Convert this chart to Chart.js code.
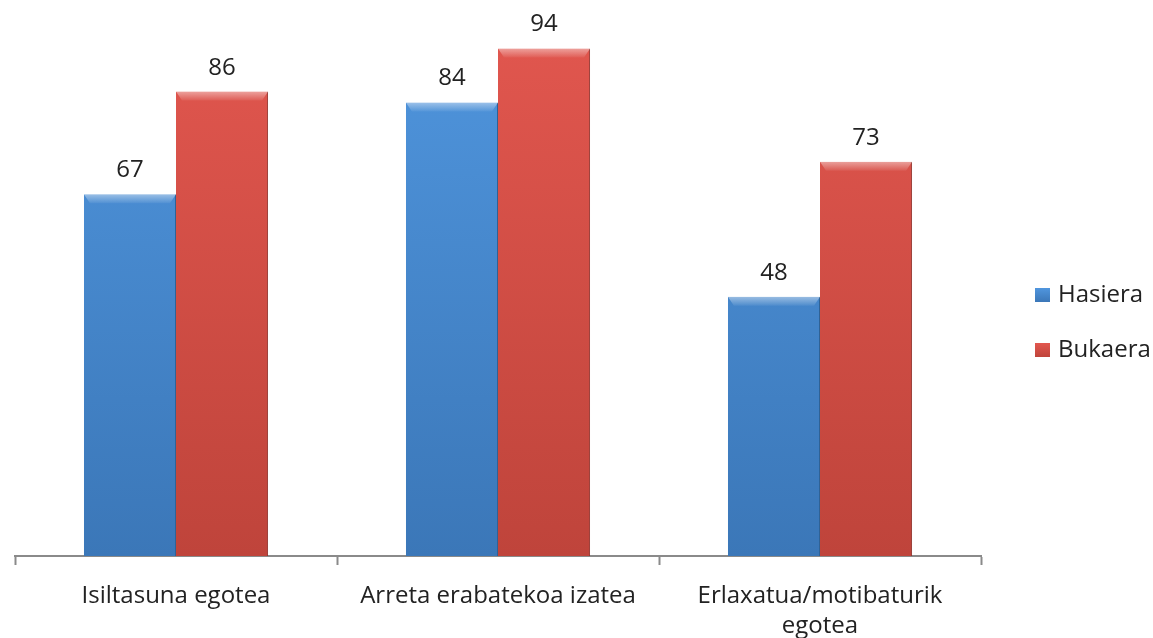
<!DOCTYPE html>
<html>
<head>
<meta charset="utf-8">
<script src="https://cdn.jsdelivr.net/npm/chart.js@4/dist/chart.umd.min.js"></script>
<style>
  html, body { margin: 0; padding: 0; background: #fff; }
  #wrap { width: 1153px; height: 638px; }
</style>
</head>
<body>
<div id="wrap"><canvas id="myChart" width="1153" height="638"></canvas></div>
<script>
// chart data
var categories = ['Isiltasuna egotea', 'Arreta erabatekoa izatea', ['Erlaxatua/motibaturik', 'egotea']];
var seriesNames = ['Hasiera', 'Bukaera'];
var hasiera = [67, 84, 48];
var bukaera = [86, 94, 73];
var axisMin = 0;
var axisMax = 100;

var FONT = '"Open Sans", "DejaVu Sans", sans-serif';

// top and bottom colours of each series
var seriesColors = [
  { top: '#5096de', bottom: '#3b77b8', edge: '#2f6296' },
  { top: '#e2574f', bottom: '#bf443b', edge: '#8e3029' }
];

function barFill(idx) {
  return function (context) {
    var chart = context.chart;
    var area = chart.chartArea;
    if (!area) return seriesColors[idx].top;
    var g = chart.ctx.createLinearGradient(0, area.top, 0, area.bottom);
    g.addColorStop(0, seriesColors[idx].top);
    g.addColorStop(1, seriesColors[idx].bottom);
    return g;
  };
}

// value labels above bars + bevel on top of each bar
var valueLabels = {
  id: 'valueLabels',
  afterDatasetsDraw: function (chart) {
    var ctx = chart.ctx;
    chart.data.datasets.forEach(function (ds, i) {
      var meta = chart.getDatasetMeta(i);
      meta.data.forEach(function (bar, j) {
        var half = bar.width / 2;
        // bevel
        ctx.save();
        var g = ctx.createLinearGradient(0, bar.y, 0, bar.y + 9);
        g.addColorStop(0, 'rgba(255,255,255,0.45)');
        g.addColorStop(1, 'rgba(255,255,255,0.05)');
        ctx.fillStyle = g;
        ctx.beginPath();
        ctx.moveTo(bar.x - half, bar.y);
        ctx.lineTo(bar.x + half, bar.y);
        ctx.lineTo(bar.x + half - 6, bar.y + 9);
        ctx.lineTo(bar.x - half + 6, bar.y + 9);
        ctx.closePath();
        ctx.fill();
        ctx.restore();

        ctx.save();
        ctx.fillStyle = '#222';
        ctx.font = '24px ' + FONT;
        ctx.textAlign = 'center';
        ctx.textBaseline = 'alphabetic';
        ctx.fillText(ds.data[j], bar.x, bar.y - 17);
        ctx.restore();
      });
    });
  }
};

// legend on the right side
var sideLegend = {
  id: 'sideLegend',
  afterDraw: function (chart) {
    var ctx = chart.ctx;
    var area = chart.chartArea;
    var x = area.right + 54;
    var rows = [295, 350];
    chart.data.datasets.forEach(function (ds, i) {
      var y = rows[i];
      ctx.save();
      var g = ctx.createLinearGradient(0, y - 7, 0, y + 7);
      g.addColorStop(0, seriesColors[i].top);
      g.addColorStop(1, seriesColors[i].bottom);
      ctx.fillStyle = g;
      ctx.fillRect(x, y - 7, 15, 14);
      ctx.fillStyle = '#222';
      ctx.font = '24px ' + FONT;
      ctx.textAlign = 'left';
      ctx.textBaseline = 'middle';
      ctx.fillText(ds.label, x + 23, y);
      ctx.restore();
    });
  }
};

var ctx = document.getElementById('myChart').getContext('2d');
var chart = new Chart(ctx, {
  type: 'bar',
  data: {
    labels: categories,
    datasets: [
      {
        label: seriesNames[0],
        data: hasiera,
        backgroundColor: barFill(0),
        borderColor: seriesColors[0].edge,
        borderWidth: { left: 0, right: 1, top: 0, bottom: 0 },
        categoryPercentage: 0.572,
        barPercentage: 1
      },
      {
        label: seriesNames[1],
        data: bukaera,
        backgroundColor: barFill(1),
        borderColor: seriesColors[1].edge,
        borderWidth: { left: 0, right: 1, top: 0, bottom: 0 },
        categoryPercentage: 0.572,
        barPercentage: 1
      }
    ]
  },
  options: {
    responsive: false,
    animation: false,
    devicePixelRatio: 1,
    layout: { padding: { left: 15, right: 172, top: 16, bottom: 0 } },
    plugins: {
      legend: { display: false },
      tooltip: { enabled: false }
    },
    scales: {
      x: {
        offset: true,
        grid: {
          display: true,
          offset: true,
          drawOnChartArea: false,
          drawTicks: true,
          tickLength: 9,
          tickColor: '#8a8a8a',
          tickWidth: 2
        },
        border: { display: true, color: '#8a8a8a', width: 2 },
        ticks: {
          color: '#222',
          padding: 16,
          maxRotation: 0,
          autoSkip: false,
          font: { family: FONT, size: 24, lineHeight: 1.25 }
        },
        afterFit: function (scale) { scale.height = 82; }
      },
      y: {
        display: false,
        min: axisMin,
        max: axisMax
      }
    }
  },
  plugins: [valueLabels, sideLegend]
});
</script>
</body>
</html>
